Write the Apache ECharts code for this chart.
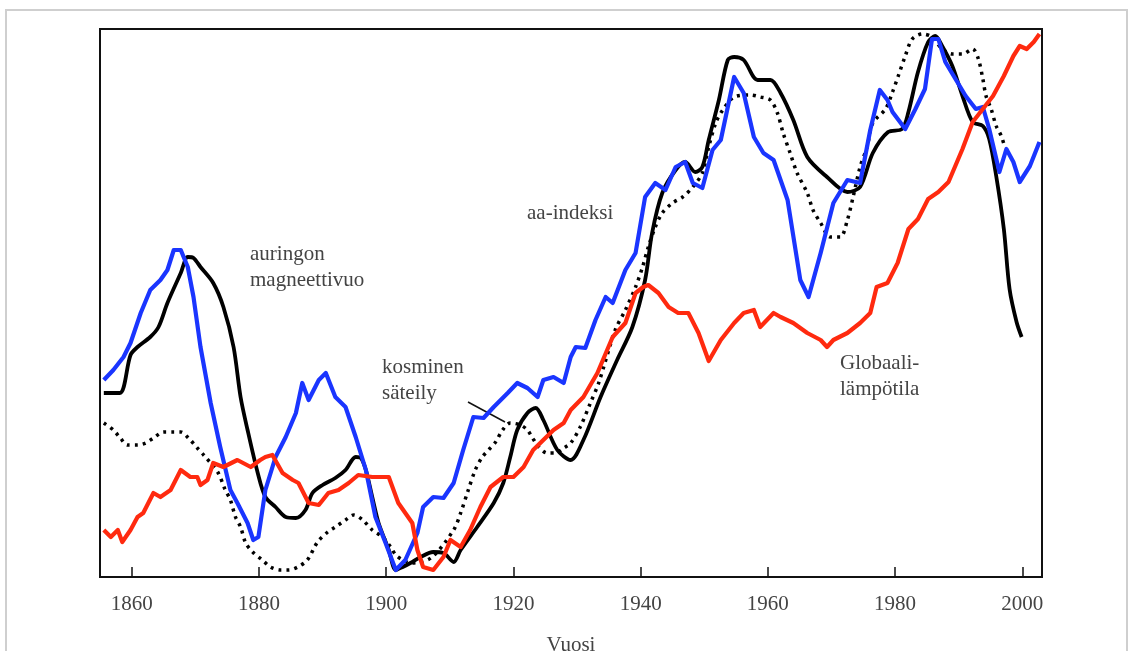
<!DOCTYPE html>
<html>
<head>
<meta charset="utf-8">
<script src="https://cdn.jsdelivr.net/npm/echarts@6/dist/echarts.min.js"></script>
<style>
  html, body { margin: 0; padding: 0; background: #fff; overflow: hidden; }
  #chart { width: 1133px; height: 651px; }
</style>
</head>
<body>
<div id="chart"></div>
<script>
// Relative units (0 = bottom of plot, 548 = top of plot)
const tickYears = [1860, 1880, 1900, 1920, 1940, 1960, 1980, 2000];

// auringon magneettivuo (black solid)
const fluxYears = [1855.6,1858.1,1859.8,1860.9,1862.9,1864.2,1865.6,1867.7,1868.8,1869.7,1870.8,1872.8,1874.4,1876.0,1877.1,1878.2,1879.8,1881.0,1882.6,1884.2,1885.8,1887.3,1888.4,1890.0,1892.0,1893.6,1895.2,1896.0,1896.8,1897.8,1898.8,1900.4,1901.5,1902.6,1903.8,1905.4,1907.4,1909.0,1910.6,1911.7,1914.3,1916.9,1918.4,1919.5,1920.6,1922.2,1923.5,1924.7,1926.9,1929.0,1931.0,1933.7,1936.3,1938.7,1940.7,1941.8,1943.4,1945.5,1947.0,1948.6,1949.7,1950.7,1952.3,1953.7,1954.7,1956.2,1958.4,1960.4,1962.0,1964.0,1966.2,1969.3,1972.5,1974.5,1976.5,1978.9,1981.1,1982.1,1983.6,1985.2,1986.3,1987.4,1989.0,1990.6,1992.2,1993.8,1994.8,1995.9,1997.1,1998.0,1999.1,1999.9];
const fluxValues = [184,184,222,230,240,250,274,304,320,319,310,294,270,230,180,147,104,80,70,60,59,67,84,92,99,107,120,119,107,80,54,27,7,10,14,20,25,24,15,27,50,74,94,120,147,164,169,157,127,117,137,180,217,250,297,344,384,407,415,405,410,437,477,517,520,517,497,497,484,457,420,400,385,390,424,445,448,465,505,535,541,531,511,481,455,451,438,401,348,288,255,240];

// kosminen säteily (black dotted)
const cosmicYears = [1855.6,1857.1,1858.2,1859.3,1860.9,1862.2,1863.4,1865.0,1866.4,1867.7,1868.9,1870.3,1871.3,1873.5,1874.7,1875.5,1876.3,1877.1,1877.9,1879.0,1880.5,1881.8,1883.4,1884.7,1886.1,1887.6,1889.2,1890.8,1892.0,1893.6,1894.9,1896.3,1897.8,1899.4,1900.7,1901.5,1902.6,1903.8,1907.0,1910.6,1911.7,1912.9,1914.0,1915.1,1916.1,1917.2,1918.3,1919.5,1921.1,1922.2,1923.0,1924.0,1925.3,1926.6,1927.9,1929.0,1930.5,1932.1,1933.4,1936.0,1937.6,1939.2,1940.3,1941.2,1942.3,1943.4,1945.0,1946.6,1948.2,1949.7,1950.7,1951.8,1952.9,1954.7,1957.3,1958.8,1960.4,1961.5,1962.4,1963.5,1964.6,1966.2,1967.1,1968.3,1969.8,1971.4,1972.5,1973.4,1974.5,1975.6,1976.5,1978.5,1979.6,1980.5,1981.6,1982.7,1984.3,1985.8,1987.4,1989.0,1990.6,1992.2,1993.1,1993.8,1994.3,1995.1,1995.9,1996.7,1997.2];
const cosmicValues = [154,147,139,132,132,134,139,145,145,145,139,129,122,105,87,77,60,50,34,25,17,10,7,7,10,17,35,45,50,57,62,57,47,40,30,22,17,14,19,47,64,87,107,120,127,135,147,154,152,147,139,130,124,124,129,134,150,174,194,247,267,290,310,330,350,364,374,380,390,404,430,454,467,480,482,480,477,464,444,424,404,384,367,354,340,340,357,380,410,430,454,468,485,501,521,538,543,540,528,523,523,528,518,498,481,468,451,441,431];

// aa-indeksi (blue)
const aaYears = [1855.6,1857.1,1858.7,1859.8,1861.4,1862.9,1864.5,1865.6,1866.6,1867.7,1868.8,1869.7,1870.8,1872.4,1873.9,1875.5,1876.6,1878.2,1879.1,1879.9,1881.0,1882.6,1884.2,1885.8,1886.8,1887.8,1889.4,1890.5,1892.0,1893.6,1895.2,1896.8,1898.3,1899.9,1901.5,1903.0,1904.9,1905.8,1907.4,1909.0,1910.6,1912.1,1913.7,1915.3,1916.9,1919.1,1920.6,1922.2,1923.8,1924.7,1926.3,1927.9,1929.0,1929.8,1931.3,1932.9,1934.5,1935.6,1937.6,1939.2,1940.7,1942.3,1943.9,1945.5,1947.0,1948.2,1949.7,1951.3,1952.6,1954.7,1956.2,1957.8,1959.3,1960.9,1963.1,1965.1,1966.4,1968.3,1970.3,1972.5,1974.5,1976.1,1977.6,1978.8,1979.6,1981.6,1983.2,1984.7,1985.8,1986.8,1987.9,1989.5,1991.1,1992.7,1993.8,1994.8,1996.4,1997.5,1998.6,1999.6,2001.2,2002.7];
const aaValues = [197,207,220,234,264,287,297,307,327,327,310,280,230,174,130,87,74,54,37,40,87,120,140,164,194,177,197,204,180,170,140,107,60,34,7,17,44,70,80,79,94,127,160,159,170,184,194,189,180,197,200,194,220,230,229,257,280,274,307,324,380,394,387,410,415,394,389,427,437,500,484,440,424,417,377,297,280,324,374,397,394,447,487,477,465,448,468,488,538,538,515,498,481,468,470,448,405,428,415,395,411,435];

// Globaali lämpötila (red)
const tempYears = [1855.6,1856.7,1857.8,1858.5,1859.8,1860.9,1861.8,1863.4,1864.5,1866.1,1867.7,1869.2,1870.3,1870.8,1871.9,1872.8,1874.4,1876.6,1878.7,1880.2,1881.0,1882.1,1883.7,1885.3,1886.2,1887.8,1889.4,1890.9,1892.5,1894.1,1895.6,1897.8,1900.4,1901.9,1904.1,1904.9,1905.8,1907.4,1909.0,1910.1,1911.7,1913.2,1914.8,1916.4,1918.4,1920.0,1921.6,1923.1,1924.7,1926.3,1927.9,1929.0,1931.0,1933.2,1935.6,1937.6,1939.2,1940.4,1941.2,1942.8,1944.4,1945.9,1947.5,1949.1,1950.7,1952.6,1954.7,1956.2,1957.8,1958.8,1960.9,1962.0,1964.0,1966.2,1968.3,1969.3,1970.3,1972.5,1974.5,1976.1,1977.1,1978.8,1980.4,1982.1,1983.6,1985.2,1986.8,1988.4,1990.6,1992.2,1993.8,1995.4,1997.1,1998.6,1999.6,2000.7,2001.8,2002.7];
const tempValues = [47,40,47,35,47,60,64,84,80,87,107,100,100,92,97,114,110,117,110,117,120,122,104,97,94,74,72,84,87,94,102,100,100,74,54,27,10,7,20,37,30,47,70,90,100,100,110,127,137,147,154,167,180,204,240,254,284,290,292,284,270,264,264,244,216,237,254,264,267,250,264,260,254,244,237,230,237,244,254,264,290,294,314,348,358,378,385,395,428,455,468,481,501,521,531,528,535,543];

const pairs = (xs, ys) => xs.map((x, i) => [x, ys[i]]);

const serif = '"Liberation Serif", "DejaVu Serif", serif';

const chart = echarts.init(document.getElementById('chart'), null, { renderer: 'canvas' });

chart.setOption({
  backgroundColor: '#ffffff',
  animation: false,
  grid: {
    left: 100, top: 29, right: 91, bottom: 74,
    outerBoundsMode: 'none',
    containLabel: false,
    show: true, borderColor: '#111', borderWidth: 2, backgroundColor: 'transparent'
  },
  xAxis: {
    type: 'value',
    min: 1855,
    max: 2003.1,
    splitNumber: 7,
    name: 'Vuosi',
    nameLocation: 'middle',
    nameGap: 58,
    nameTextStyle: { fontFamily: serif, fontSize: 21, color: '#444' },
    axisLine: { show: true, onZero: false, lineStyle: { color: '#111', width: 2 } },
    axisTick: { show: true, inside: true, length: 10, customValues: tickYears, lineStyle: { color: '#111', width: 1.5 } },
    axisLabel: {
      customValues: tickYears, margin: 17, fontFamily: serif, fontSize: 21, color: '#444',
      formatter: (v) => String(v)
    },
    splitLine: { show: false }
  },
  yAxis: {
    type: 'value',
    min: 0,
    max: 548,
    show: false,
    splitLine: { show: false }
  },
  series: [
    {
      name: 'kosminen säteily',
      type: 'line',
      data: pairs(cosmicYears, cosmicValues),
      showSymbol: false,
      smooth: 0.3,
      z: 2,
      lineStyle: { color: '#000', width: 3.5, type: [3, 5], cap: 'butt' }
    },
    {
      name: 'auringon magneettivuo',
      type: 'line',
      data: pairs(fluxYears, fluxValues),
      showSymbol: false,
      smooth: 0.3,
      z: 3,
      lineStyle: { color: '#000', width: 3.8, join: 'round' }
    },
    {
      name: 'aa-indeksi',
      type: 'line',
      data: pairs(aaYears, aaValues),
      showSymbol: false,
      z: 4,
      lineStyle: { color: '#1a35ff', width: 4.2, join: 'round' }
    },
    {
      name: 'Globaali lämpötila',
      type: 'line',
      data: pairs(tempYears, tempValues),
      showSymbol: false,
      z: 5,
      lineStyle: { color: '#ff2a0f', width: 4.2, join: 'round' }
    }
  ],
  graphic: [
    { type: 'rect', silent: true, z: -10,
      shape: { x: 6, y: 10, width: 1121, height: 700 },
      style: { fill: 'none', stroke: '#cfcfcf', lineWidth: 2 } },
    { type: 'text', left: 250, top: 241,
      style: { text: 'auringon\nmagneettivuo', fontFamily: serif, fontSize: 21, lineHeight: 26, fill: '#444' } },
    { type: 'text', left: 382, top: 354,
      style: { text: 'kosminen\nsäteily', fontFamily: serif, fontSize: 21, lineHeight: 26, fill: '#444' } },
    { type: 'text', left: 527, top: 203,
      style: { text: 'aa-indeksi', fontFamily: serif, fontSize: 21, fill: '#444' } },
    { type: 'text', left: 840, top: 350,
      style: { text: 'Globaali-\nlämpötila', fontFamily: serif, fontSize: 21, lineHeight: 26, fill: '#444' } },
    { type: 'line', silent: true,
      shape: { x1: 468, y1: 402, x2: 505, y2: 422 },
      style: { stroke: '#111', lineWidth: 1.5 } }
  ]
});
</script>
</body>
</html>
